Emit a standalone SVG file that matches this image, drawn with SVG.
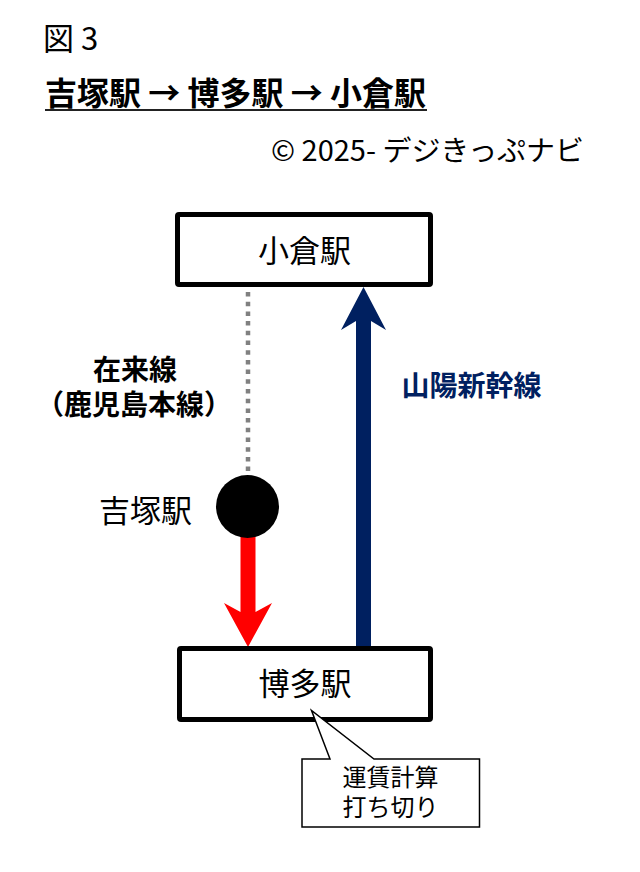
<svg xmlns="http://www.w3.org/2000/svg" width="640" height="872" viewBox="0 0 640 872">
<style>
text{font-family:"Noto Sans CJK JP","Noto Sans",sans-serif;fill:#000}
.b{font-weight:bold}
.box{fill:#fff;stroke:#000;stroke-width:5}
</style>
<rect width="640" height="872" fill="#fff"/>
<g id="header">
<text x="43" y="50" font-size="31">図 3</text>
<text x="45" y="105" font-size="32" class="b" textLength="381" lengthAdjust="spacingAndGlyphs">吉塚駅 → 博多駅 → 小倉駅</text>
<line x1="45" y1="110" x2="427" y2="110" stroke="#222" stroke-width="2"/>
<text x="271" y="161" font-size="28" textLength="313" lengthAdjust="spacingAndGlyphs">© 2025- デジきっぷナビ</text>
</g>
<g id="connectors">
<line x1="248" y1="292" x2="248" y2="476" stroke="#808080" stroke-width="4.5" stroke-dasharray="4.5 5.2"/>
<path d="M240.5,530 V612 L224,603 L248,647 L272,603 L255.5,612 V530 Z" fill="#ff0000"/>
<path d="M356,648 V321 L341,330 L363.5,287 L386,330 L371,321 V648 Z" fill="#002060"/>
</g>
<g id="kokura">
<rect class="box" x="177.5" y="214.5" width="253" height="70" rx="1.5"/>
<text x="304.5" y="262" font-size="31" text-anchor="middle">小倉駅</text>
</g>
<g id="hakata">
<rect class="box" x="179.5" y="648.5" width="251" height="71" rx="1.5"/>
<text x="305" y="695" font-size="31" text-anchor="middle">博多駅</text>
</g>
<g id="yoshizuka">
<circle cx="247.5" cy="506.5" r="31.5" fill="#000"/>
<text x="145.5" y="522" font-size="31" text-anchor="middle">吉塚駅</text>
</g>
<g id="zairai-label">
<text font-size="28" class="b" text-anchor="middle"><tspan x="135" y="380">在来線</tspan><tspan x="134" y="415">（鹿児島本線）</tspan></text>
</g>
<g id="sanyo-label">
<text x="471.5" y="396" font-size="28" class="b" text-anchor="middle" style="fill:#002060">山陽新幹線</text>
</g>
<g id="callout">
<path d="M302,759 H330 L311.5,710.5 L374,759 H479.5 V827 H302 Z" fill="#fff" stroke="#000" stroke-width="1.5" stroke-linejoin="miter"/>
<text font-size="24" text-anchor="middle"><tspan x="390.5" y="786">運賃計算</tspan><tspan x="390.5" y="816">打ち切り</tspan></text>
</g>
</svg>
